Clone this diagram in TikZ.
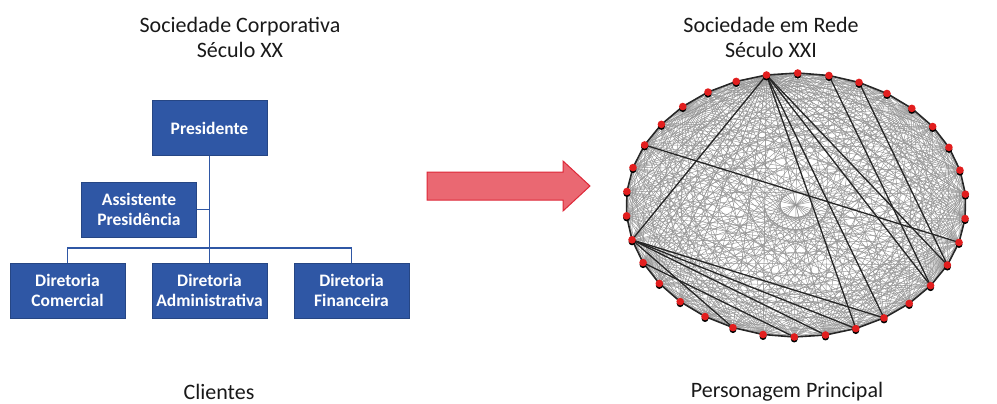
\documentclass[tikz,border=0pt]{standalone}
\usepackage{fontspec}
\setmainfont{Carlito}
\definecolor{chartblue}{RGB}{47,87,165}
\definecolor{arrowred}{RGB}{234,104,114}
\definecolor{arrowedge}{RGB}{222,40,56}
\definecolor{dotred}{RGB}{226,30,30}

\begin{document}
\begin{tikzpicture}[x=1pt,y=-1pt,
	cargo/.style={draw=chartblue!80!black, fill=chartblue, text=white, font=\fontsize{17.5}{20}\selectfont\bfseries, align=center, minimum width=115pt, minimum height=55pt, inner sep=0pt},
	titulo/.style={font=\fontsize{22}{25}\selectfont, text=black!90, align=center},
	elo/.style={draw=chartblue, line width=1.3pt},
	seta/.style={draw=arrowedge, fill=arrowred, line width=1pt, line join=miter},
	aresta/.style={black!42, line width=0.45pt},
	aro/.style={black!85, line width=1.6pt},
	forte/.style={black!85, line width=1.3pt}]
	\useasboundingbox (0,0) rectangle (997,404);

	% organograma
	\node[titulo] (tit1) at (240,37) {Sociedade Corporativa\\Século XX};
	\node[cargo] (pres) at (209.5,128) {Presidente};
	\node[cargo] (assist) at (139,209.5) {Assistente\\Presidência};
	\node[cargo] (dcom) at (67.5,290.5) {Diretoria\\Comercial};
	\node[cargo] (dadm) at (209.5,290.5) {Diretoria\\Administrativa};
	\node[cargo] (dfin) at (351.5,290.5) {Diretoria\\Financeira};
	\coordinate (barra) at (210,248);
	\draw[elo] (pres.south) -- (dadm.north);
	\draw[elo] (assist.east) -- (assist.east -| pres.south);
	\draw[elo] (dcom.north) -- (dcom.north |- barra) -- (dfin.north |- barra) -- (dfin.north);
	\node[titulo] (cli) at (219,392) {Clientes};

	% seta
	\draw[seta] (427,172) -- (563,172) -- (563,161) -- (590,186) -- (563,211) -- (563,200) -- (427,200) -- cycle;

	% rede
	\node[titulo] (tit2) at (771,37) {Sociedade em Rede\\Século XXI};
	\coordinate (centro) at (796,205);
	\foreach \k in {1,...,34} {
		\pgfmathsetmacro\ang{-100+(\k-1)*360/34}
		\coordinate (v\k) at ([shift={(centro)}] \ang:170 and 132);
	}
	\foreach \i in {1,...,33} {
		\pgfmathtruncatemacro\ini{\i+1}
		\foreach \j in {\ini,...,34} {
			\pgfmathtruncatemacro\sorte{mod(\i*\j+3*\i+\j,7)}
			\ifnum\sorte<5 \draw[aresta] (v\i) -- (v\j); \fi
		}
	}
	\foreach \j in {2,...,34}
		\draw[aresta] (v1) -- (v\j);
	\foreach \k [evaluate=\k as \prox using {int(mod(\k,34)+1)}] in {1,...,34}
		\draw[aro] (v\k) -- (v\prox);
	\foreach \a/\b in {1/26,1/17,1/16,1/14,1/13,3/14,4/13,30/12,26/17,26/16,26/18,26/21,25/19}
		\draw[forte] (v\a) -- (v\b);
	\foreach \k in {1,...,34} {
		\fill[black] ([shift={(0pt,-2pt)}]v\k) circle (3.5pt);
		\fill[dotred] (v\k) circle (3.8pt);
	}
	\node[titulo] (pers) at (787,392) {Personagem Principal};
\end{tikzpicture}
\end{document}
